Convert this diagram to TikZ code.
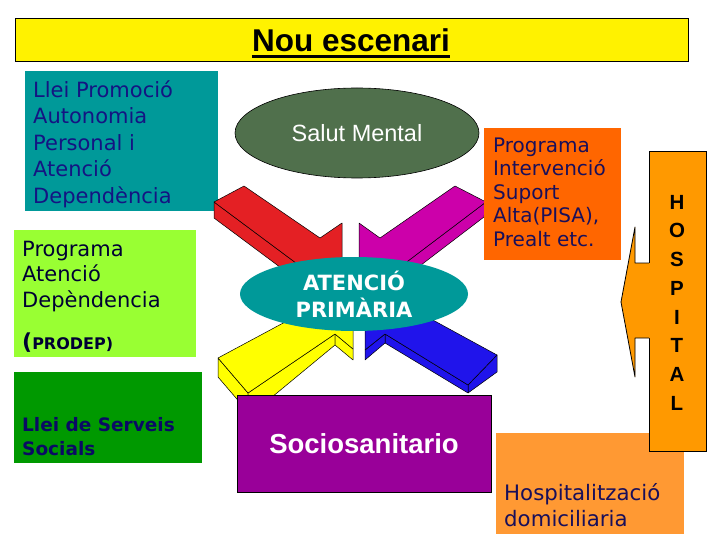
\documentclass[tikz,border=0pt]{standalone}
\usepackage{fontspec}
\usetikzlibrary{shapes.geometric}
\newfontfamily\verd{DejaVu Sans}
\newfontfamily\arialf{Liberation Sans}
\newcommand\mytop[1]{\rule{0pt}{#1}}
\definecolor{tealbox}{RGB}{0,153,153}
\definecolor{limebox}{RGB}{153,255,51}
\definecolor{greenbox}{RGB}{0,153,0}
\definecolor{sage}{RGB}{80,112,76}
\definecolor{purplebox}{RGB}{153,0,153}
\definecolor{orangeA}{RGB}{255,102,0}
\definecolor{orangeB}{RGB}{255,153,0}
\definecolor{orangeC}{RGB}{255,153,51}
\definecolor{navyA}{RGB}{20,20,130}
\definecolor{navyB}{RGB}{0,0,51}
\definecolor{navyC}{RGB}{10,10,100}
\definecolor{navyD}{RGB}{25,15,90}
\definecolor{arrRed}{RGB}{228,32,36}
\definecolor{arrMag}{RGB}{204,0,170}
\definecolor{arrYel}{RGB}{255,255,0}
\definecolor{arrBlu}{RGB}{32,20,235}
\tikzset{
  face/.style={draw=black, line width=0.5pt, line join=round},
  txt/.style={inner sep=0pt, align=left},
}
\begin{document}
\begin{tikzpicture}[x=1pt,y=-1pt]
\useasboundingbox (0,0) rectangle (720,540);
\fill[white] (0,0) rectangle (720,540);

% title
\draw[fill=yellow, line width=0.8pt] (15,18) rectangle (688,61);
\node[inner sep=0pt, anchor=base, font=\arialf\bfseries\fontsize{31.5}{38}\selectfont] (title) at (351,52) {Nou escenari};
\draw[line width=3pt] ([yshift=-4.5pt]title.base west) -- ([yshift=-4.5pt]title.base east);

% left boxes
\fill[tealbox] (25,71) rectangle (218,211);
\node[txt, anchor=north west, text=navyA, font=\verd\fontsize{21}{26.5}\selectfont] (llei1) at (33,79)
  {\mytop{18pt}Llei Promoció\\Autonomia\\Personal i\\Atenció\\Dependència};

\fill[limebox] (14,230) rectangle (196,357);
\node[txt, anchor=north west, text=navyB, font=\verd\fontsize{21}{25.5}\selectfont] (prog1) at (22,238)
  {\mytop{18pt}Programa\\Atenció\\Depèndencia};
\node[inner sep=0pt, anchor=base west, text=navyB] (prodep) at (22,349)
  {{\verd\bfseries\fontsize{22}{25}\selectfont(}{\verd\bfseries\fontsize{16}{19}\selectfont PRODEP)}};

\fill[greenbox] (14,372) rectangle (202,463);
\node[txt, anchor=north west, text=navyC, font=\verd\bfseries\fontsize{18.5}{24}\selectfont] (llei2) at (22,414)
  {\mytop{17pt}Llei de Serveis\\Socials};

% salut mental
\node[ellipse, draw=black, line width=0.6pt, fill=sage, minimum width=244pt, minimum height=90pt, inner sep=0pt,
      text=white, font=\arialf\fontsize{23.5}{28}\selectfont] (salut) at (357,133) {Salut Mental};

% arrows
% red
\path[face, fill=arrRed] (214,202) -- (300,266) -- (300,282) -- (214,218) -- cycle;
\path[face, fill=arrRed] (244,186) -- (320,238) -- (342,223) -- (342,282) -- (300,282) -- (300,266) -- (214,202) -- cycle;
% magenta
\path[face, fill=arrMag] (486,202) -- (484,217) -- (404,278) -- (404,264) -- cycle;
\path[face, fill=arrMag] (455,186) -- (380,238) -- (359,223) -- (359,282) -- (404,282) -- (404,264) -- (486,202) -- cycle;
% yellow
\path[face, fill=arrYel] (218,358) -- (218,377) -- (248,412) -- (248,393) -- cycle;
\path[face, fill=arrYel] (248,393) -- (335,334) -- (335,345) -- (266,402) -- (248,402) -- cycle;
\path[face, fill=arrYel] (335,334) -- (353,349) -- (353,360) -- (335,345) -- cycle;
\path[face, fill=arrYel] (300,314) -- (218,358) -- (248,393) -- (335,334) -- (353,349) -- (353,314) -- cycle;
% blue
\path[face, fill=arrBlu] (468,385) -- (497,355) -- (497,372) -- (468,393) -- cycle;
\path[face, fill=arrBlu] (385,334) -- (468,385) -- (468,393) -- (385,343) -- cycle;
\path[face, fill=arrBlu] (385,334) -- (385,343) -- (365,360) -- (365,350) -- cycle;
\path[face, fill=arrBlu] (420,313) -- (497,355) -- (468,385) -- (385,334) -- (365,350) -- (365,314) -- cycle;

% atencio primaria
\node[ellipse, fill=tealbox, minimum width=228pt, minimum height=74pt, inner sep=0pt, align=center,
      text=white, font=\verd\bfseries\fontsize{21}{27}\selectfont] (ap) at (354,294) {ATENCIÓ\\PRIMÀRIA};

% sociosanitario
\node[draw=black, line width=0.6pt, fill=purplebox, minimum width=254pt, minimum height=97pt, inner sep=0pt,
      text=white, font=\arialf\bfseries\fontsize{27.5}{32}\selectfont] (socio) at (364,443.5) {Sociosanitario};

% programa intervencio
\fill[orangeA] (484,128) rectangle (621,260);
\node[txt, anchor=north west, text=navyD, font=\verd\fontsize{20}{23.5}\selectfont] (pisa) at (493,135)
  {\mytop{17pt}Programa\\Intervenció\\Suport\\Alta(PISA),\\Prealt etc.};

% hospitalitzacio domiciliaria
\fill[orangeC] (496,433) rectangle (684,534);
\node[txt, anchor=north west, text=navyD, font=\verd\fontsize{21.3}{26.5}\selectfont] (hdom) at (504,482)
  {\mytop{18pt}Hospitalització\\domiciliaria};

% hospital
\draw[fill=orangeB, line width=0.8pt] (649,151) rectangle (706,451);
\fill[orangeB] (650,263) -- (635,263) -- (635,227) -- (621,302) -- (635,377) -- (635,338) -- (650,338) -- cycle;
\draw[line width=0.8pt, line join=round] (649,263) -- (635,263) -- (635,227) -- (621,302) -- (635,377) -- (635,338) -- (649,338);
\node[inner sep=0pt, anchor=north, align=center, font=\arialf\bfseries\fontsize{20.5}{28.7}\selectfont] (hosp) at (677,192)
  {\mytop{17pt}H\\O\\S\\P\\I\\T\\A\\L};
\end{tikzpicture}
\end{document}
